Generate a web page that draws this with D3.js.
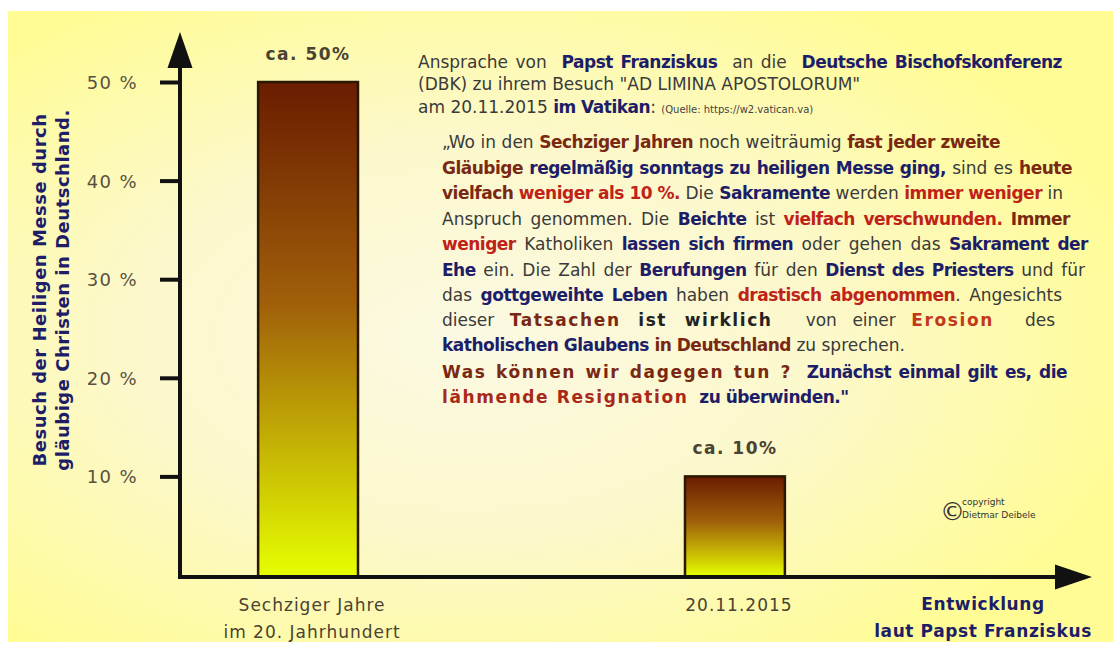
<!DOCTYPE html>
<html>
<head>
<meta charset="utf-8">
<script src="https://cdn.jsdelivr.net/npm/d3@7"></script>
<style>
  body { margin: 0; background: #fff; }
  svg text { font-family: "DejaVu Sans", Verdana, sans-serif; }
</style>
</head>
<body>
<div id="chart"></div>
<script>
// data
const categories = ["Sechziger Jahre", "20.11.2015"];
const categoryLines = [["Sechziger Jahre", "im 20. Jahrhundert"], ["20.11.2015"]];
const values = [50, 10];
const valueLabels = ["ca. 50%", "ca. 10%"];
const yTicks = [10, 20, 30, 40, 50];
const yTitle = ["Besuch der Heiligen Messe durch", "gläubige Christen in Deutschland."];
const xTitle = ["Entwicklung", "laut Papst Franziskus"];

// text block: [text, style]
const header = [
  [["Ansprache von  ", "g"], ["Papst Franziskus", "n"], ["  an die  ", "g"], ["Deutsche Bischofskonferenz", "n"]],
  [["(DBK) zu ihrem Besuch \"AD LIMINA APOSTOLORUM\"", "g"]],
  [["am 20.11.2015 ", "g"], ["im Vatikan", "n"], [": ", "g"], ["(Quelle: https://w2.vatican.va)", "s"]]
];
const quote = [
  [["„Wo in den ", "g"], ["Sechziger Jahren", "b"], [" noch weiträumig ", "g"], ["fast jeder zweite", "b"]],
  [["Gläubige", "b"], [" regelmäßig sonntags zu heiligen Messe ging,", "n"], [" sind es ", "g"], ["heute", "b"]],
  [["vielfach", "b"], [" weniger als 10 %.", "r"], [" Die ", "g"], ["Sakramente", "n"], [" werden ", "g"], ["immer weniger", "r"], [" in", "g"]],
  [["Anspruch genommen. Die ", "g"], ["Beichte", "n"], [" ist ", "g"], ["vielfach verschwunden.", "r"], [" Immer", "b"]],
  [["weniger", "r"], [" Katholiken ", "g"], ["lassen sich firmen", "n"], [" oder gehen das ", "g"], ["Sakrament der", "n"]],
  [["Ehe", "n"], [" ein. Die Zahl der ", "g"], ["Berufungen", "n"], [" für den ", "g"], ["Dienst des Priesters", "n"], [" und für", "g"]],
  [["das ", "g"], ["gottgeweihte Leben", "n"], [" haben ", "g"], ["drastisch abgenommen", "r"], [". Angesichts", "g"]],
  [["dieser ", "g"], ["Tatsachen", "bs"], [" ist wirklich ", "ks"], [" von einer ", "g"], ["Erosion", "os"], ["  des", "g"]],
  [["katholischen Glaubens", "n"], [" in Deutschland", "b"], [" zu sprechen.", "g"]],
  [["Was können wir dagegen tun ?", "bs"], ["  Zunächst einmal gilt es, die", "n"]],
  [["lähmende Resignation", "rs"], ["  zu überwinden.\"", "n"]]
];

// layout
const W = 1113, H = 647;
const quoteBase = [148, 174, 199, 225, 250, 276, 301, 326, 351, 378, 403];
const quoteEnd = [1000, 1072, 1063, 1070, 1088, 1085, 1062, 1055, null, 1067, null];
const headerBase = [68, 90, 113];
const headerEnd = [1062, null, null];

const styles = {
  g: { fill: "#3a3a3a", weight: "normal", ls: 0 },
  n: { fill: "#1d1d68", weight: "bold", ls: -0.5 },
  b: { fill: "#7a2812", weight: "bold", ls: -0.5 },
  r: { fill: "#c02218", weight: "bold", ls: -0.5 },
  bs: { fill: "#7a2812", weight: "bold", ls: 1.6 },
  rs: { fill: "#a8281a", weight: "bold", ls: 1.6 },
  ks: { fill: "#222222", weight: "bold", ls: 1.6 },
  os: { fill: "#c4381a", weight: "bold", ls: 1.6 },
  s: { fill: "#444444", weight: "normal", ls: 0, size: 10 }
};

const svg = d3.select('#chart')
  .append('svg')
  .attr('width', W)
  .attr('height', H);

const defs = svg.append('defs');

const bg = defs.append('radialGradient').attr('id', 'bg')
  .attr('cx', '42%').attr('cy', '52%').attr('r', '62%');
bg.append('stop').attr('offset', '0%').attr('stop-color', '#fbf9e2');
bg.append('stop').attr('offset', '50%').attr('stop-color', '#fcf8cc');
bg.append('stop').attr('offset', '100%').attr('stop-color', '#fffc96');

const barGrad = defs.append('linearGradient').attr('id', 'barGrad')
  .attr('x1', 0).attr('y1', 0).attr('x2', 0).attr('y2', 1);
barGrad.append('stop').attr('offset', '0%').attr('stop-color', '#6a1c00');
barGrad.append('stop').attr('offset', '45%').attr('stop-color', '#a0600a');
barGrad.append('stop').attr('offset', '100%').attr('stop-color', '#e6ff00');

// panel
svg.append('rect')
  .attr('x', 8).attr('y', 11)
  .attr('width', W - 8).attr('height', 631)
  .attr('fill', 'url(#bg)');

// scales
const yScale = d3.scaleLinear().domain([0, 50]).range([575, 82]);
const xScale = d3.scaleBand()
  .domain(categories)
  .range([180, 863])
  .paddingInner(0.766)
  .paddingOuter(0.183);

const axisX0 = 180, axisY0 = 577;

// bars
svg.selectAll('rect.bar')
  .data(values)
  .enter()
  .append('rect')
  .attr('class', 'bar')
  .attr('x', (d, i) => xScale(categories[i]))
  .attr('y', d => yScale(d))
  .attr('width', xScale.bandwidth())
  .attr('height', d => axisY0 - yScale(d))
  .attr('fill', 'url(#barGrad)')
  .attr('stroke', '#2a1800')
  .attr('stroke-width', 2.5);

// value labels
svg.selectAll('text.vlabel')
  .data(values)
  .enter()
  .append('text')
  .attr('class', 'vlabel')
  .attr('x', (d, i) => xScale(categories[i]) + xScale.bandwidth() / 2)
  .attr('y', d => yScale(d) - 22)
  .attr('text-anchor', 'middle')
  .attr('font-size', 17)
  .attr('font-weight', 'bold')
  .attr('letter-spacing', 1.5)
  .attr('fill', '#4a4232')
  .text((d, i) => valueLabels[i]);

// y axis
const yAxis = d3.axisLeft(yScale)
  .tickValues(yTicks)
  .tickFormat(d => d + ' %')
  .tickSize(20)
  .tickPadding(22);

const gy = svg.append('g')
  .attr('transform', 'translate(' + axisX0 + ',0)')
  .call(yAxis);
gy.select('.domain').remove();
gy.selectAll('.tick line').attr('stroke', '#111').attr('stroke-width', 4);
gy.selectAll('.tick text')
  .attr('font-family', '"DejaVu Sans", sans-serif')
  .attr('font-size', 18)
  .attr('letter-spacing', 1.4)
  .attr('fill', '#5a5040')
  .attr('dy', '0.36em');

// x axis
const xAxis = d3.axisBottom(xScale).tickSize(0).tickFormat('');
const gx = svg.append('g')
  .attr('transform', 'translate(0,' + axisY0 + ')')
  .call(xAxis);
gx.select('.domain').remove();
gx.selectAll('.tick').each(function(d, i) {
  const t = d3.select(this).append('text')
    .attr('text-anchor', 'middle')
    .attr('font-family', '"DejaVu Sans", sans-serif')
    .attr('font-size', 17)
    .attr('letter-spacing', 1)
    .attr('fill', '#4a4232');
  categoryLines[i].forEach((ln, j) => {
    t.append('tspan').attr('x', 4).attr('y', 34 + j * 27).text(ln);
  });
});

// axis lines with arrowheads
const yTop = 32, xRight = 1092;
svg.append('line')
  .attr('x1', axisX0).attr('y1', axisY0 + 2)
  .attr('x2', axisX0).attr('y2', yTop + 30)
  .attr('stroke', '#111').attr('stroke-width', 4);
svg.append('path')
  .attr('d', d3.line()([[axisX0, yTop], [axisX0 - 12.5, yTop + 36], [axisX0 + 12.5, yTop + 36]]) + 'Z')
  .attr('fill', '#111');
svg.append('line')
  .attr('x1', axisX0 - 2).attr('y1', axisY0)
  .attr('x2', xRight - 30).attr('y2', axisY0)
  .attr('stroke', '#111').attr('stroke-width', 4);
svg.append('path')
  .attr('d', d3.line()([[xRight, axisY0], [xRight - 37, axisY0 - 12.5], [xRight - 37, axisY0 + 12.5]]) + 'Z')
  .attr('fill', '#111');

// y title
const yt = svg.append('text')
  .attr('transform', 'translate(46,290) rotate(-90)')
  .attr('text-anchor', 'middle')
  .attr('font-size', 18)
  .attr('font-weight', 'bold')
  .attr('letter-spacing', 0.5)
  .attr('fill', '#1d1d68');
yTitle.forEach((ln, j) => {
  yt.append('tspan').attr('x', 0).attr('y', j * 23).text(ln);
});

// x title
const xt = svg.append('text')
  .attr('text-anchor', 'middle')
  .attr('font-size', 17)
  .attr('font-weight', 'bold')
  .attr('fill', '#1d1d68');
xTitle.forEach((ln, j) => {
  xt.append('tspan').attr('x', 983).attr('y', 610 + j * 27).attr('letter-spacing', 0.6).text(ln);
});

// copyright
svg.append('text').attr('x', 940).attr('y', 520).attr('font-size', 25).attr('fill', '#333').text('©');
svg.append('text').attr('x', 962).attr('y', 505).attr('font-size', 9).attr('fill', '#333').text('copyright');
svg.append('text').attr('x', 962).attr('y', 518).attr('font-size', 9).attr('fill', '#333').text('Dietmar Deibele');

// rich text lines
function richLine(parts, x, y, end) {
  const t = svg.append('text')
    .attr('x', x).attr('y', y)
    .attr('font-size', 17)
    .attr('xml:space', 'preserve')
    .style('white-space', 'pre');
  parts.forEach(([txt, k]) => {
    const s = styles[k];
    t.append('tspan')
      .attr('fill', s.fill)
      .attr('font-weight', s.weight)
      .attr('letter-spacing', s.ls)
      .attr('font-size', s.size || null)
      .text(txt);
  });
  if (end) {
    const natural = t.node().getComputedTextLength();
    const spaces = parts.map(p => p[0]).join('').split(' ').length - 1;
    if (spaces > 0) t.attr('word-spacing', (end - x - natural) / spaces);
  }
}

header.forEach((ln, i) => richLine(ln, 418, headerBase[i], headerEnd[i]));
quote.forEach((ln, i) => richLine(ln, 442, quoteBase[i], quoteEnd[i]));
</script>
</body>
</html>
